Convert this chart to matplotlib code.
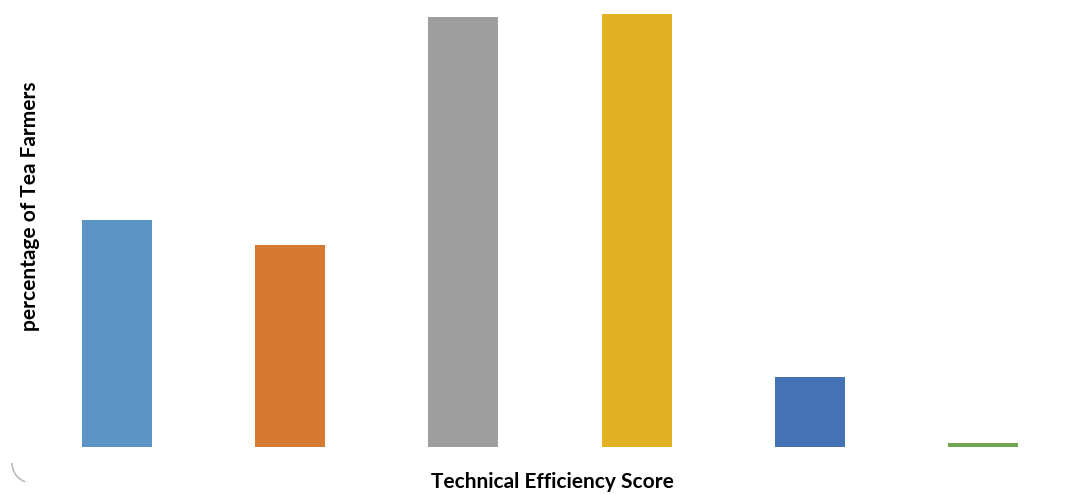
import matplotlib.pyplot as plt
from matplotlib.patches import Arc

# share of tea farmers per technical efficiency class (%)
categories = ["<0.5", "0.5-0.6", "0.6-0.7", "0.7-0.8", "0.8-0.9", ">0.9"]
percentages = [16.6, 14.8, 31.5, 31.7, 5.1, 0.3]
colors = ["#5B94C5", "#D77A31", "#9E9E9E", "#E3B224", "#4472B4", "#70A650"]

fig = plt.figure(figsize=(10.81, 4.95), dpi=100)
ax = fig.add_axes([30 / 1081, 48 / 495, 1040 / 1081, 440 / 495])

ax.bar(range(len(categories)), percentages, width=0.404, color=colors)
ax.set_xlim(-0.5, len(categories) - 0.5)
ax.set_ylim(0, 32.2)
ax.set_xticks(range(len(categories)))
ax.set_xticklabels(categories)
ax.tick_params(labelbottom=False, labelleft=False, length=0)
ax.set_yticks([])
for s in ax.spines.values():
    s.set_visible(False)

fig.text(552 / 1081, 1 - 482 / 495, "Technical Efficiency Score",
         family="Lato", weight="bold", fontsize=15, ha="center", va="center")
fig.text(30 / 1081, 1 - 206 / 495, "percentage of Tea Farmers",
         family="Lato", weight="bold", fontsize=15, rotation=90,
         ha="center", va="center")

# rounded frame corner, bottom left
corner = Arc((32, 32), 40, 40, theta1=180, theta2=250, color="#BBBBBB",
             lw=1.2, transform=None)
fig.add_artist(corner)

fig.savefig("out.png", dpi=100)
